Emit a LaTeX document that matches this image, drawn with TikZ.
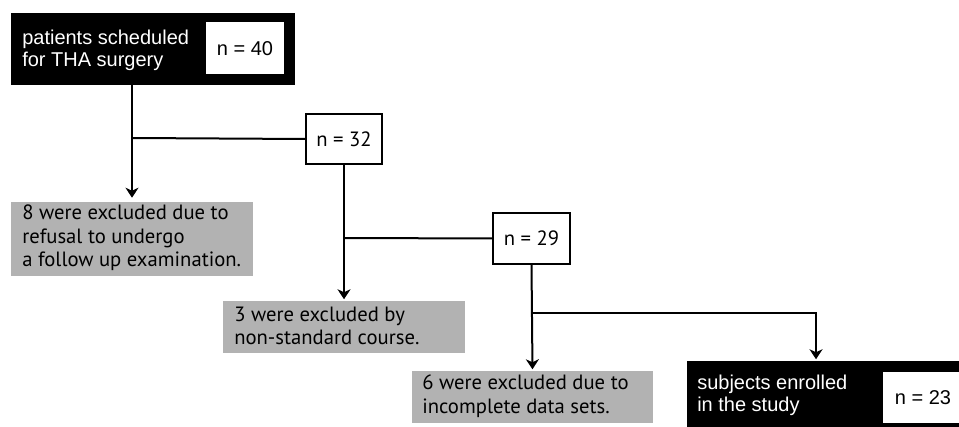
\documentclass[tikz,border=0pt]{standalone}
\usepackage{fontspec}
\setmainfont{Liberation Sans}
\newfontfamily\myr{PT Sans}
\usetikzlibrary{arrows.meta}
\definecolor{boxgray}{RGB}{178,178,178}
\begin{document}
\begin{tikzpicture}[x=0.75pt,y=-0.75pt,
  conn/.style={line width=1.5pt},
  arr/.style={conn, -{Stealth[length=7.5pt,width=9.75pt,inset=2.25pt]}, shorten >=1.1pt},
  graybox/.style={fill=boxgray, inner sep=0pt},
  graytext/.style={inner sep=0pt, align=left, anchor=west,
    font=\myr\fontsize{15.5}{17.6}\selectfont},
  blackbox/.style={fill=black, inner sep=0pt},
  countbox/.style={fill=white, draw=black, line width=1.5pt, inner sep=0pt,
    font=\myr\fontsize{15.5}{17.6}\selectfont},
  numbox/.style={fill=white, inner sep=0pt, font=\fontsize{15}{18}\selectfont},
  wtext/.style={text=white, align=left, inner sep=0pt, anchor=west,
    font=\fontsize{15}{16.5}\selectfont},
]
\useasboundingbox (0,0) rectangle (959,427);
% top box
\node[blackbox, minimum width=213pt, minimum height=54pt] (top) at (153,49) {};
\node[numbox, minimum width=58.5pt, minimum height=39pt] (n40) at (245,48.5) {n = 40};
\node[wtext] (toptext) at (22,50) {patients scheduled\\for THA surgery};
% count boxes
\node[countbox, minimum width=57pt, minimum height=37.5pt] (n32) at (344,139) {n = 32};
\node[countbox, minimum width=57.75pt, minimum height=38.25pt] (n29) at (531.5,238.5) {n = 29};
% gray boxes
\node[graybox, minimum width=181.5pt, minimum height=55.5pt] (g1) at (132,239) {};
\node[graytext] (g1t) at (22,238) {8 were excluded due to\\refusal to undergo\\a follow up examination.};
\node[graybox, minimum width=181.5pt, minimum height=39pt] (g2) at (344,327) {};
\node[graytext] (g2t) at (234,326) {3 were excluded by\\non-standard course.};
\node[graybox, minimum width=180.75pt, minimum height=39pt] (g3) at (532.5,397) {};
\node[graytext] (g3t) at (422,396) {6 were excluded due to\\incomplete data sets.};
% bottom box
\node[blackbox, minimum width=204pt, minimum height=49.5pt] (bot) at (823,394) {};
\node[numbox, minimum width=60pt, minimum height=38.25pt] (n23) at (923,397.5) {n = 23};
\node[wtext] (bottext) at (697,395) {subjects enrolled\\in the study};
% connectors
\coordinate (b1) at (132,138);
\coordinate (b2) at (344,238);
\coordinate (b3) at (532,313);
\coordinate (b4) at (816,313);
\draw[arr, shorten >=3pt] (top.south -| g1.north) -- (g1.north);
\draw[conn] (b1) -- (n32.west);
\draw[arr] (n32.south) -- (g2.north);
\draw[conn] (b2) -- (n29.west);
\draw[arr] (n29.south) -- (g3.north);
\draw[arr] (b3) -- (b4) -- (b4 |- bot.north);
\end{tikzpicture}
\end{document}
